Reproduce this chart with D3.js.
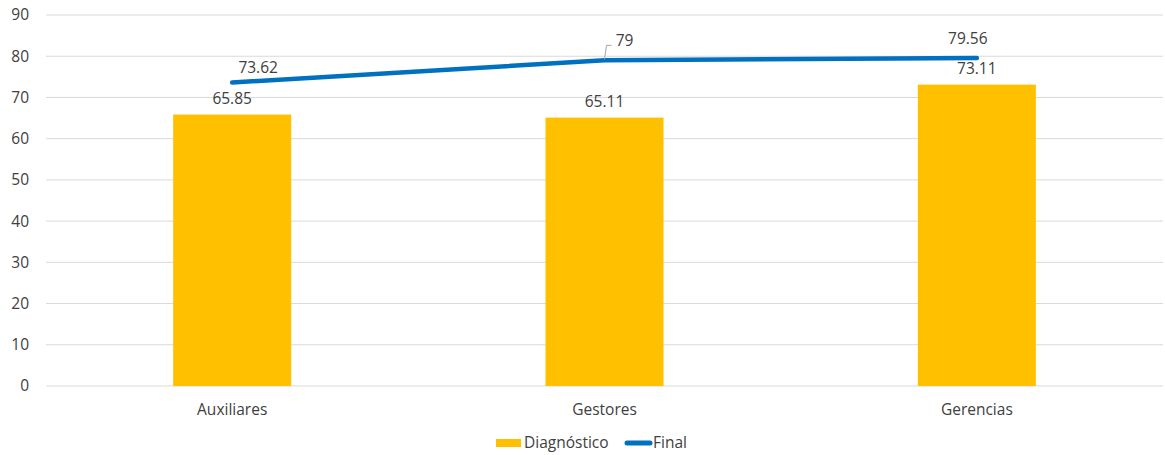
<!DOCTYPE html>
<html><head><meta charset="utf-8">
<script src="https://cdn.jsdelivr.net/npm/d3@7"></script>
<style>body{margin:0;background:#fff}text{font-family:"Open Sans","Noto Sans",sans-serif;fill:#404040}</style>
</head><body><svg id="c" width="1165" height="455"></svg>
<script>
const categories = ["Auxiliares","Gestores","Gerencias"];
const diagnostico = [65.85,65.11,73.11];
const finalVals = [73.62,79,79.56];
const yTicks = [0,10,20,30,40,50,60,70,80,90];

const svg = d3.select("#c");
const x = d3.scaleBand().domain(categories).range([46,1163]).paddingInner(0.683).paddingOuter(0.3415);
const y = d3.scaleLinear().domain([0,90]).range([386,15]);
const fs = "15.5px";

svg.append("g").selectAll("line").data(yTicks).join("line")
  .attr("x1",46).attr("x2",1163).attr("y1",d=>y(d)).attr("y2",d=>y(d))
  .attr("stroke","#d9d9d9").attr("stroke-width",1);

const ya = svg.append("g").attr("transform","translate(29,0)")
  .call(d3.axisLeft(y).tickValues(yTicks).tickSize(0).tickPadding(0));
ya.select(".domain").remove();
ya.selectAll("text").style("font-size",fs).attr("fill","#404040");

svg.append("g").selectAll("rect").data(categories).join("rect")
  .attr("x",d=>x(d)).attr("width",x.bandwidth())
  .attr("y",(d,i)=>y(diagnostico[i])).attr("height",(d,i)=>y(0)-y(diagnostico[i]))
  .attr("fill","#FFC000");

const xa = svg.append("g").attr("transform","translate(0,400)")
  .call(d3.axisBottom(x).tickSize(0).tickPadding(4));
xa.select(".domain").remove();
xa.selectAll("text").style("font-size",fs).attr("fill","#404040");

const cx = d=>x(d)+x.bandwidth()/2;
svg.append("path").datum(categories)
  .attr("d",d3.line().x(d=>cx(d)).y((d,i)=>y(finalVals[i])))
  .attr("fill","none").attr("stroke","#0070C0").attr("stroke-width",4.5).attr("stroke-linecap","round");

svg.append("g").selectAll("text").data(categories).join("text")
  .attr("x",d=>cx(d)).attr("y",(d,i)=>y(diagnostico[i])-11)
  .attr("text-anchor","middle").style("font-size",fs)
  .text((d,i)=>diagnostico[i].toFixed(2));

const lblOff = [[26,-10],[20,-14],[-9,-14]];
svg.append("g").selectAll("text").data(categories).join("text")
  .attr("x",(d,i)=>cx(d)+lblOff[i][0]).attr("y",(d,i)=>y(finalVals[i])+lblOff[i][1])
  .attr("text-anchor","middle").style("font-size",fs)
  .text((d,i)=>String(finalVals[i]));

const lx = cx(categories[1]), ly = y(finalVals[1]);
svg.append("path").attr("d",`M${lx},${ly-1} L${lx+2},${ly-15} L${lx+7},${ly-15}`)
  .attr("fill","none").attr("stroke","#a6a6a6").attr("stroke-width",1);

const lg = svg.append("g");
lg.append("rect").attr("x",496).attr("y",439).attr("width",25).attr("height",8).attr("fill","#FFC000");
lg.append("text").attr("x",524).attr("y",448).style("font-size",fs).text("Diagnóstico");
lg.append("line").attr("x1",627).attr("x2",650).attr("y1",443).attr("y2",443)
  .attr("stroke","#0070C0").attr("stroke-width",5).attr("stroke-linecap","round");
lg.append("text").attr("x",653).attr("y",448).style("font-size",fs).text("Final");
</script></body></html>
